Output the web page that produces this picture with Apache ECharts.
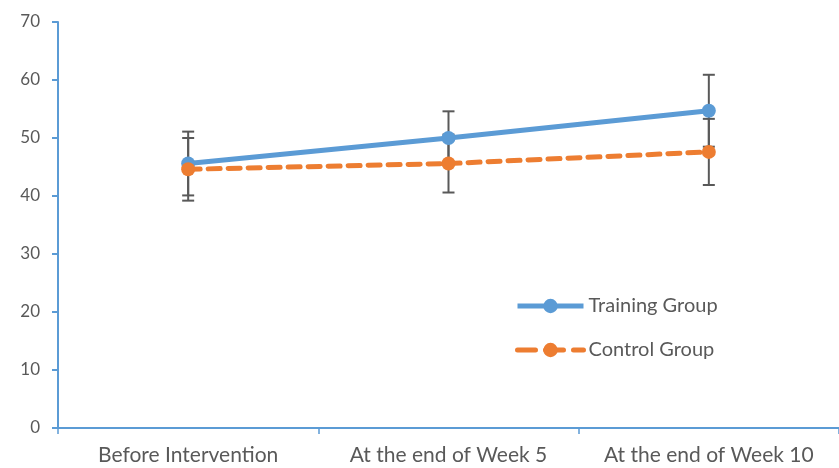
<!DOCTYPE html>
<html>
<head>
<meta charset="utf-8">
<script src="https://cdn.jsdelivr.net/npm/echarts@6/dist/echarts.min.js"></script>
<style>html,body{margin:0;padding:0;background:#fff}#c{width:839px;height:468px}</style>
</head>
<body>
<div id="c"></div>
<script>
var categories = ['Before Intervention', 'At the end of Week 5', 'At the end of Week 10'];
var trainingMean = [45.6, 50.0, 54.7];
var trainingErr = [5.5, 4.6, 6.2];
var controlMean = [44.6, 45.6, 47.6];
var controlErr = [5.4, 5.0, 5.7];
var yTicks = [0, 10, 20, 30, 40, 50, 60, 70];

var errData = [];
for (var i = 0; i < categories.length; i++) {
  errData.push([i, trainingMean[i] - trainingErr[i], trainingMean[i] + trainingErr[i]]);
  errData.push([i, controlMean[i] - controlErr[i], controlMean[i] + controlErr[i]]);
}

function renderErr(params, api) {
  var x = api.value(0);
  var lo = api.coord([x, api.value(1)]);
  var hi = api.coord([x, api.value(2)]);
  var cw = 6;
  var st = {stroke: '#595959', lineWidth: 2};
  return {
    type: 'group',
    children: [
      {type: 'line', shape: {x1: lo[0], y1: lo[1], x2: hi[0], y2: hi[1]}, style: st},
      {type: 'line', shape: {x1: lo[0] - cw, y1: lo[1], x2: lo[0] + cw, y2: lo[1]}, style: st},
      {type: 'line', shape: {x1: hi[0] - cw, y1: hi[1], x2: hi[0] + cw, y2: hi[1]}, style: st}
    ]
  };
}

var chart = echarts.init(document.getElementById('c'));
var font = 'Lato, sans-serif';
chart.setOption({
  animation: false,
  textStyle: {fontFamily: font},
  grid: {left: 58, right: 0, top: 22, bottom: 40},
  legend: {
    left: 515, top: 296, padding: 0, orient: 'vertical', itemGap: 24, itemTextGap: 8,
    itemWidth: 66, itemHeight: 18,
    textStyle: {color: '#595959', fontSize: 20, fontFamily: font},
    data: [
      {name: 'Training Group', lineStyle: {width: 5, color: '#5B9BD5'}},
      {name: 'Control Group', lineStyle: {width: 5, color: '#ED7D31', type: [18, 10]}}
    ]
  },
  xAxis: {
    type: 'category', data: categories, boundaryGap: true,
    axisLine: {lineStyle: {color: '#5B9BD5', width: 2}},
    axisTick: {show: true, interval: 0, length: 6, lineStyle: {color: '#5B9BD5', width: 1.5}},
    axisLabel: {interval: 0, color: '#595959', fontSize: 21, margin: 17, fontFamily: font}
  },
  yAxis: {
    type: 'value', min: 0, max: 70, interval: 10,
    axisLine: {show: true, lineStyle: {color: '#5B9BD5', width: 2}},
    axisTick: {show: true, length: 6, lineStyle: {color: '#5B9BD5', width: 2}},
    splitLine: {show: false},
    axisLabel: {color: '#595959', fontSize: 17, margin: 18, fontFamily: font,
      formatter: function (v) { return yTicks.indexOf(v) >= 0 ? String(v) : ''; }}
  },
  series: [
    {
      type: 'custom', name: 'err', renderItem: renderErr, data: errData,
      encode: {x: 0, y: [1, 2]}, z: 1, silent: true
    },
    {
      name: 'Training Group', type: 'line', data: trainingMean, z: 3,
      symbol: 'circle', symbolSize: 14,
      lineStyle: {color: '#5B9BD5', width: 5},
      itemStyle: {color: '#5B9BD5'}
    },
    {
      name: 'Control Group', type: 'line', data: controlMean, z: 4,
      symbol: 'circle', symbolSize: 14,
      lineStyle: {color: '#ED7D31', width: 5, type: [12, 8], cap: 'round'},
      itemStyle: {color: '#ED7D31'}
    }
  ]
});
</script>
</body>
</html>
